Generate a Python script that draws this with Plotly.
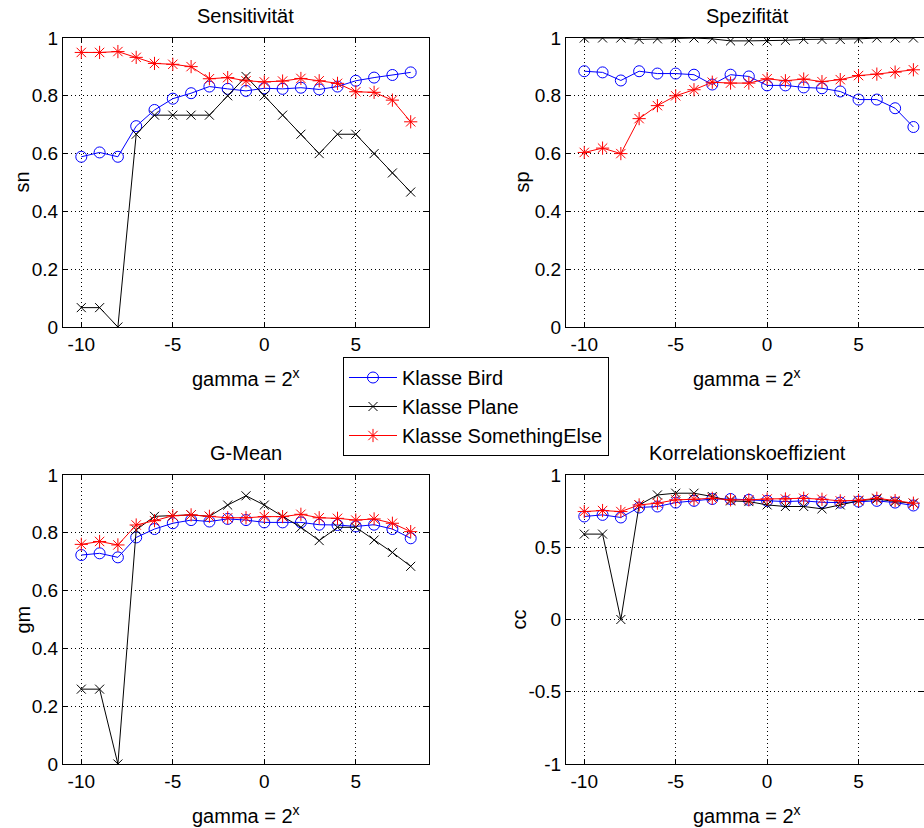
import plotly.graph_objects as go

W, H = 924, 828

gamma_exp = list(range(-10, 9))

# Sensitivität (sn)
sn_bird = [0.589, 0.604, 0.589, 0.695, 0.751, 0.790, 0.809, 0.832, 0.824, 0.817,
           0.826, 0.824, 0.828, 0.822, 0.832, 0.852, 0.863, 0.872, 0.881]
sn_plane = [0.067, 0.067, 0.0, 0.667, 0.733, 0.733, 0.733, 0.733, 0.800, 0.867,
            0.800, 0.733, 0.667, 0.600, 0.667, 0.667, 0.600, 0.533, 0.467]
sn_else = [0.950, 0.950, 0.953, 0.933, 0.912, 0.909, 0.901, 0.859, 0.863, 0.852,
           0.848, 0.851, 0.860, 0.852, 0.843, 0.814, 0.812, 0.785, 0.710]

# Spezifität (sp)
sp_bird = [0.885, 0.881, 0.853, 0.885, 0.877, 0.877, 0.873, 0.839, 0.873, 0.867,
           0.836, 0.836, 0.829, 0.826, 0.815, 0.787, 0.787, 0.757, 0.692]
sp_plane = [1.0, 1.0, 1.0, 0.995, 0.997, 1.0, 1.0, 0.997, 0.990, 0.990,
            0.990, 0.992, 0.995, 0.995, 0.995, 0.997, 1.0, 1.0, 1.0]
sp_else = [0.604, 0.619, 0.600, 0.721, 0.766, 0.800, 0.821, 0.847, 0.844, 0.844,
           0.859, 0.852, 0.858, 0.849, 0.856, 0.870, 0.875, 0.882, 0.890]

# G-Mean (gm)
gm_bird = [0.723, 0.729, 0.715, 0.784, 0.813, 0.833, 0.844, 0.839, 0.848, 0.844,
           0.836, 0.836, 0.836, 0.828, 0.827, 0.822, 0.828, 0.813, 0.781]
gm_plane = [0.259, 0.259, 0.0, 0.810, 0.857, 0.859, 0.862, 0.857, 0.896, 0.928,
            0.896, 0.857, 0.819, 0.773, 0.819, 0.819, 0.775, 0.732, 0.684]
gm_else = [0.760, 0.770, 0.758, 0.827, 0.842, 0.859, 0.862, 0.857, 0.852, 0.852,
           0.856, 0.856, 0.864, 0.852, 0.850, 0.844, 0.848, 0.833, 0.804]

# Korrelationskoeffizient (cc)
cc_bird = [0.713, 0.724, 0.706, 0.775, 0.782, 0.809, 0.821, 0.834, 0.834, 0.828,
           0.821, 0.816, 0.821, 0.811, 0.809, 0.816, 0.821, 0.809, 0.789]
cc_plane = [0.591, 0.591, 0.0, 0.793, 0.862, 0.874, 0.874, 0.851, 0.821, 0.816,
            0.793, 0.782, 0.782, 0.766, 0.793, 0.821, 0.834, 0.816, 0.805]
cc_else = [0.747, 0.754, 0.747, 0.793, 0.805, 0.828, 0.832, 0.839, 0.828, 0.828,
           0.834, 0.834, 0.839, 0.832, 0.821, 0.825, 0.839, 0.823, 0.805]

class_names = ["Klasse Bird", "Klasse Plane", "Klasse SomethingElse"]
titles = ["Sensitivität", "Spezifität", "G-Mean", "Korrelationskoeffizient"]
ylabels = ["sn", "sp", "gm", "cc"]
xlabel = "gamma = 2<sup>x</sup>"
x_ticks = [-10, -5, 0, 5]
y_ticks_01 = [0, 0.2, 0.4, 0.6, 0.8, 1]
y_ticks_01_text = ["0", "0.2", "0.4", "0.6", "0.8", "1"]
y_ticks_cc = [-1, -0.5, 0, 0.5, 1]
y_ticks_cc_text = ["-1", "-0.5", "0", "0.5", "1"]

panels = [
    (sn_bird, sn_plane, sn_else),
    (sp_bird, sp_plane, sp_else),
    (gm_bird, gm_plane, gm_else),
    (cc_bird, cc_plane, cc_else),
]

FONT = "Liberation Sans, Arial, Helvetica, sans-serif"

def px(x):
    return x / W

def py(y):
    return 1 - y / H

# axes pixel boxes: (left, right, top, bottom)
boxes = [
    (63, 429, 38, 327),
    (566, 924, 38, 327),
    (63, 429, 475, 764),
    (566, 924, 475, 764),
]
xranges = [[-11, 9], [-11, 8.58], [-11, 9], [-11, 8.58]]
yranges = [[0, 1], [0, 1], [0, 1], [-1, 1]]
center_x = [246, 747, 246, 747]
ylabel_x = [22, 522, 22, 518]

styles = [
    dict(color="#0000ff", symbol="circle-open", size=11),
    dict(color="#000000", symbol="x-thin-open", size=9),
    dict(color="#ff0000", symbol="asterisk-open", size=11),
]

fig = go.Figure()
for i, series in enumerate(panels):
    xa = "x" if i == 0 else f"x{i+1}"
    ya = "y" if i == 0 else f"y{i+1}"
    for j, vals in enumerate(series):
        st = styles[j]
        fig.add_trace(go.Scatter(
            x=gamma_exp, y=vals, mode="lines+markers",
            name=class_names[j], showlegend=(i == 0),
            line=dict(color=st["color"], width=1),
            marker=dict(symbol=st["symbol"], size=st["size"],
                        color=st["color"], line=dict(color=st["color"], width=1)),
            xaxis=xa, yaxis=ya,
        ))

layout = dict(
    template="none",
    width=W, height=H,
    margin=dict(l=0, r=0, t=0, b=0, pad=0, autoexpand=False),
    paper_bgcolor="white", plot_bgcolor="white",
    font=dict(family=FONT, size=20, color="black"),
    showlegend=True,
    legend=dict(x=px(343), y=py(357), xanchor="left", yanchor="top",
                bgcolor="white", bordercolor="black", borderwidth=1,
                font=dict(size=20), tracegroupgap=0, itemwidth=48),
    annotations=[],
)

for i in range(4):
    l, r, t, b = boxes[i]
    xk = "xaxis" if i == 0 else f"xaxis{i+1}"
    yk = "yaxis" if i == 0 else f"yaxis{i+1}"
    xa = "x" if i == 0 else f"x{i+1}"
    ya = "y" if i == 0 else f"y{i+1}"
    layout[xk] = dict(
        domain=[px(l), px(r)], range=xranges[i], anchor=ya, automargin=False,
        tickvals=x_ticks, ticktext=[str(v) for v in x_ticks],
        ticks="inside", ticklen=5, tickcolor="black",
        showline=True, linecolor="black", linewidth=1, mirror="ticks",
        showgrid=True, gridcolor="black", gridwidth=1, griddash="1px,3px",
        zeroline=False, tickfont=dict(size=19),
    )
    if i == 3:
        yt, ytt = y_ticks_cc, y_ticks_cc_text
    else:
        yt, ytt = y_ticks_01, y_ticks_01_text
    layout[yk] = dict(
        domain=[py(b), py(t)], range=yranges[i], anchor=xa, automargin=False,
        tickvals=yt, ticktext=ytt,
        ticks="inside", ticklen=5, tickcolor="black",
        showline=True, linecolor="black", linewidth=1, mirror="ticks",
        showgrid=True, gridcolor="black", gridwidth=1, griddash="1px,3px",
        zeroline=False, tickfont=dict(size=19),
    )
    layout["annotations"].append(dict(
        text=titles[i], x=px(center_x[i]), y=py(t - 22), xref="paper", yref="paper",
        xanchor="center", yanchor="middle", showarrow=False, font=dict(size=20)))
    layout["annotations"].append(dict(
        text=xlabel, x=px(center_x[i]), y=py(b + 50), xref="paper", yref="paper",
        xanchor="center", yanchor="middle", showarrow=False, font=dict(size=20)))
    layout["annotations"].append(dict(
        text=ylabels[i], x=px(ylabel_x[i]), y=py((t + b) / 2), xref="paper", yref="paper",
        xanchor="center", yanchor="middle", textangle=-90, showarrow=False,
        font=dict(size=20)))

fig.update_layout(**layout)
fig.write_html("out.html")
